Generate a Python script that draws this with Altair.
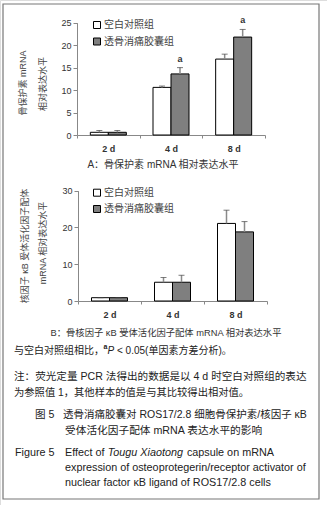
import altair as alt
import pandas as pd

# ---------------- data ----------------
days = ["2 d", "4 d", "8 d"]
groups = ["空白对照组", "透骨消痛胶囊组"]

opg_ctrl = [0.6, 10.6, 16.9]
opg_ctrl_err = [0.4, 0.3, 1.1]
opg_trt = [0.6, 13.6, 21.8]
opg_trt_err = [0.4, 1.4, 1.7]
opg_sig = ["", "a", "a"]

rankl_ctrl = [0.9, 5.1, 21.1]
rankl_ctrl_err = [0.0, 1.3, 3.6]
rankl_trt = [0.9, 5.1, 18.8]
rankl_trt_err = [0.0, 1.9, 2.8]
rankl_sig = ["", "", ""]

opg_ticks = [0, 5, 10, 15, 20, 25]
rankl_ticks = [0, 10, 20, 30]

title_a = ["骨保护素 mRNA", "相对表达水平"]
title_b = ["核因子 κB 受体活化因子配体", "mRNA 相对表达水平"]
caption_a = "A：骨保护素 mRNA 相对表达水平"
caption_b = "B：骨核因子 κB 受体活化因子配体 mRNA 相对表达水平"

W, H = 327, 505
LATIN = "Liberation Sans, Noto Sans CJK SC"


def make_df(ctrl, ctrl_err, trt, trt_err, sig):
    rows = []
    for i, d in enumerate(days):
        rows.append(dict(day=d, group=groups[0], value=ctrl[i], top=ctrl[i] + ctrl_err[i], sig=""))
        rows.append(dict(day=d, group=groups[1], value=trt[i], top=trt[i] + trt_err[i], sig=sig[i]))
    return pd.DataFrame(rows)


def panel(df, xrange, ybase, ytop, ymax, ticks, xaxis_y, yaxis_x):
    xenc = alt.X(
        "day:N", sort=days,
        scale=alt.Scale(domain=days, range=xrange, paddingInner=0, paddingOuter=0),
        axis=alt.Axis(orient="bottom", offset=xaxis_y - H, title=None, tickBand="extent",
                      tickSize=3, labelPadding=6, labelAngle=0, labelFontSize=9,
                      labelFontWeight="bold", labelColor="#333", domainColor="#888",
                      tickColor="#888", labelFont=LATIN),
    )
    yscale = alt.Scale(domain=[0, ymax], range=[ybase, ytop], nice=False, zero=True)
    yaxis = alt.Axis(orient="left", offset=-yaxis_x, title=None, values=ticks, tickSize=4,
                     labelPadding=2, labelFontSize=9, labelColor="#333", domainColor="#888",
                     tickColor="#888", grid=False, labelFont=LATIN)
    base = alt.Chart(df)
    layers = []
    for g, fill, off in [(groups[0], "white", -9), (groups[1], "#7f7f7f", 9)]:
        sub = base.transform_filter(alt.datum.group == g)
        layers.append(sub.mark_bar(width=18, xOffset=off, fill=fill, stroke="black", strokeWidth=1).encode(
            x=xenc, y=alt.Y("value:Q", scale=yscale, axis=yaxis)))
        layers.append(sub.mark_rule(xOffset=off, color="#8a8a8a", strokeWidth=1.5).encode(
            x=xenc, y=alt.Y("value:Q", scale=yscale, axis=yaxis), y2="top:Q"))
        layers.append(sub.mark_tick(orient="horizontal", size=6, thickness=1, xOffset=off, color="#444").encode(
            x=xenc, y=alt.Y("top:Q", scale=yscale, axis=yaxis)))
        layers.append(sub.mark_text(xOffset=off, dy=-9, fontSize=9, fontWeight="bold", color="#333",
                                    font=LATIN).encode(
            x=xenc, y=alt.Y("top:Q", scale=yscale, axis=yaxis), text="sig:N"))
    return alt.layer(*layers)


def txt(s, x, y, size=10, align="left", angle=0, color="#222", style="normal", weight="normal", font=LATIN):
    return alt.Chart(pd.DataFrame({"t": [s]})).mark_text(
        align=align, baseline="middle", fontSize=size, angle=angle, color=color,
        fontStyle=style, fontWeight=weight, font=font).encode(
        x=alt.value(x), y=alt.value(y), text="t:N")


def legend(x, y1, y2):
    out = []
    for i, g in enumerate(groups):
        yy = [y1, y2][i]
        out.append(alt.Chart(pd.DataFrame({"g": [g]})).mark_square(
            size=49, fill=["white", "#7f7f7f"][i], stroke="black", strokeWidth=1, opacity=1).encode(
            x=alt.value(x), y=alt.value(yy)))
        out.append(txt(g, x + 7, yy, size=10, color="#444"))
    return out


dfa = make_df(opg_ctrl, opg_ctrl_err, opg_trt, opg_trt_err, opg_sig)
dfb = make_df(rankl_ctrl, rankl_ctrl_err, rankl_trt, rankl_trt_err, rankl_sig)

pa = panel(dfa, [77, 265], 135, 22.7, 25, opg_ticks, 135, 77)
pb = panel(dfb, [78, 267], 301, 190.7, 30, rankl_ticks, 301, 78)

texts = []
texts += legend(97, 25, 41.5)
texts += legend(97, 192.7, 209)
texts.append(txt(title_a[0], 23, 83, size=9, align="center", angle=270, color="#444"))
texts.append(txt(title_a[1], 43, 84, size=9, align="center", angle=270, color="#444"))
texts.append(txt(title_b[0], 25, 246, size=9, align="center", angle=270, color="#444"))
texts.append(txt(title_b[1], 43, 243, size=9, align="center", angle=270, color="#444"))
texts.append(txt(caption_a, 163, 165, size=10, align="center", color="#333"))
texts.append(txt(caption_b, 166, 333, size=9.3, align="center", color="#333"))

# notes
texts.append(txt("与空白对照组相比，", 14, 351, size=10))
texts.append(txt("a", 103.5, 347, size=7, weight="bold"))
texts.append(txt("P", 107.5, 351, size=10, style="italic"))
texts.append(txt("< 0.05(单因素方差分析)。", 117, 351, size=10))
texts.append(txt("注：荧光定量 PCR 法得出的数据是以 4  d 时空白对照组的表达", 14, 377, size=10.6))
texts.append(txt("为参照值 1，其他样本的值是与其比较得出相对值。", 14, 393, size=10.3))
texts.append(txt("图 5", 35, 415, size=10.6))
texts.append(txt("透骨消痛胶囊对 ROS17/2.8 细胞骨保护素/核因子 κB", 63, 415, size=10.5))
texts.append(txt("受体活化因子配体 mRNA 表达水平的影响", 65, 431, size=10.7))

EN = 10.8
texts.append(txt("Figure 5", 15, 453, size=EN))
texts.append(txt("Effect of", 65, 453, size=EN))
texts.append(txt("Tougu Xiaotong", 65 + 3.95 * EN, 453, size=EN, style="italic"))
texts.append(txt("capsule on mRNA", 65 + (3.95 + 7.06 + 0.278) * EN, 453, size=EN))
texts.append(txt("expression of osteoprotegerin/receptor activator of", 65, 468, size=EN))
texts.append(txt("nuclear factor κB ligand of ROS17/2.8 cells", 65, 483, size=EN))

border = alt.Chart(pd.DataFrame({"b": [1]})).mark_rect(fill=None, stroke="#777", strokeWidth=1.2).encode(
    x=alt.value(3), x2=alt.value(319), y=alt.value(4), y2=alt.value(499))

chart = alt.layer(border, pa, pb, *texts).resolve_scale(x="independent", y="independent").properties(
    width=W, height=H, autosize=alt.AutoSizeParams(type="none"), padding=0
).configure_view(stroke=None).configure(background="white")

chart.save("out.html", embed_options={"renderer": "svg", "actions": False})
